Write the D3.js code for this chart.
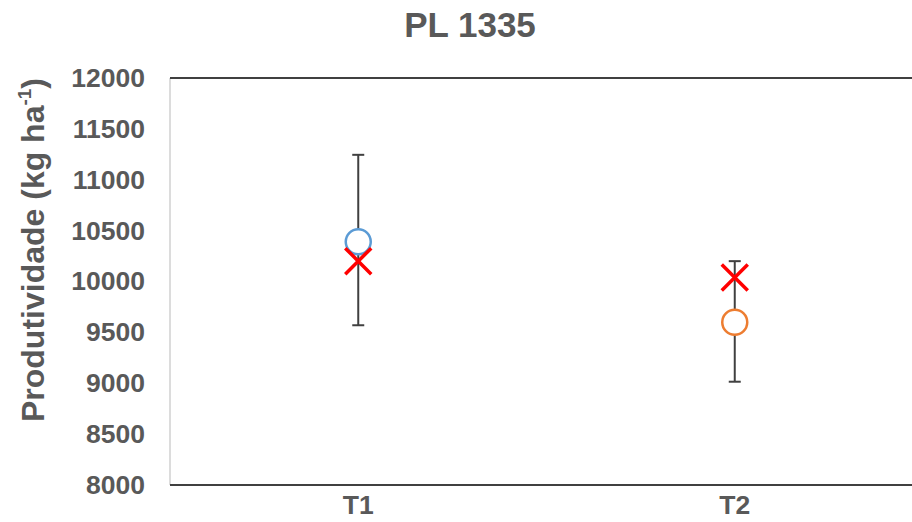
<!DOCTYPE html>
<html>
<head>
<meta charset="utf-8">
<script src="https://cdn.jsdelivr.net/npm/d3@7"></script>
<style>
  html, body { margin: 0; padding: 0; background: #ffffff; }
  svg { display: block; font-family: Arial, "Liberation Sans", sans-serif; }
</style>
</head>
<body>
<svg id="chart" width="912" height="522"></svg>
<script>
// Treatments and productivity values (kg/ha)
const categories = ["T1", "T2"];
const meanValues = [10390, 9600];
const errorLow = [9570, 9015];
const errorHigh = [11245, 10200];
const crossValues = [10200, 10040];
const markerColors = ["#5B9BD5", "#ED7D31"];
const yTicks = [8000, 8500, 9000, 9500, 10000, 10500, 11000, 11500, 12000];
const titleText = "PL 1335";

const svg = d3.select("#chart");
const plot = { left: 170, right: 923, top: 78, bottom: 485 };
const textColor = "#595959";

const x = d3.scaleBand().domain(categories).range([plot.left, plot.right]).padding(0);
const y = d3.scaleLinear().domain([8000, 12000]).range([plot.bottom, plot.top]);

const data = categories.map((c, i) => ({
  cat: c, mean: meanValues[i], lo: errorLow[i], hi: errorHigh[i],
  cross: crossValues[i], color: markerColors[i]
}));

// Title
svg.append("text")
  .attr("x", 470).attr("y", 37)
  .attr("text-anchor", "middle")
  .attr("font-size", 35).attr("font-weight", "bold")
  .attr("fill", textColor)
  .text(titleText);

// Plot frame: light left edge, dark top edge
svg.append("line")
  .attr("x1", plot.left).attr("x2", plot.left)
  .attr("y1", plot.top).attr("y2", plot.bottom)
  .attr("stroke", "#d0d0d0").attr("stroke-width", 1.5);
svg.append("line")
  .attr("x1", plot.left).attr("x2", 912)
  .attr("y1", plot.top).attr("y2", plot.top)
  .attr("stroke", "#404040").attr("stroke-width", 2);

// Y axis labels
const yAxis = d3.axisLeft(y).tickValues(yTicks).tickSize(0).tickPadding(0).tickFormat(d3.format("d"));
const gy = svg.append("g").attr("transform", `translate(${plot.left - 25},0)`).call(yAxis);
gy.select(".domain").remove();
gy.selectAll("text")
  .attr("font-size", 26.5).attr("font-weight", "bold")
  .attr("fill", textColor)
  .attr("font-family", "Arial, 'Liberation Sans', sans-serif");

// X axis
const xAxis = d3.axisBottom(x).tickSize(0).tickPadding(0);
const gx = svg.append("g").attr("transform", `translate(0,${plot.bottom})`).call(xAxis);
gx.select(".domain").attr("stroke", "#404040").attr("stroke-width", 2)
  .attr("d", `M${plot.left},0H912`);
gx.selectAll("text")
  .attr("y", 29).attr("dy", "0")
  .attr("font-size", 26.5).attr("font-weight", "bold")
  .attr("fill", textColor)
  .attr("font-family", "Arial, 'Liberation Sans', sans-serif");

// Y axis title
const yTitle = svg.append("text")
  .attr("transform", `translate(44,250) rotate(-90)`)
  .attr("text-anchor", "middle")
  .attr("font-size", 32).attr("font-weight", "bold")
  .attr("fill", textColor);
yTitle.append("tspan").text("Produtividade (kg ha");
yTitle.append("tspan").attr("font-size", 19).attr("dy", -13).text("-1");
yTitle.append("tspan").attr("dy", 13).text(")");

const cx = d => x(d.cat) + x.bandwidth() / 2;

// Error bars
const eb = svg.append("g").selectAll("g").data(data).join("g");
eb.append("line")
  .attr("x1", cx).attr("x2", cx)
  .attr("y1", d => y(d.hi)).attr("y2", d => y(d.lo))
  .attr("stroke", "#404040").attr("stroke-width", 2);
eb.append("line")
  .attr("x1", d => cx(d) - 6).attr("x2", d => cx(d) + 6)
  .attr("y1", d => y(d.hi)).attr("y2", d => y(d.hi))
  .attr("stroke", "#404040").attr("stroke-width", 2);
eb.append("line")
  .attr("x1", d => cx(d) - 6).attr("x2", d => cx(d) + 6)
  .attr("y1", d => y(d.lo)).attr("y2", d => y(d.lo))
  .attr("stroke", "#404040").attr("stroke-width", 2);

// Mean markers
svg.append("g").selectAll("circle").data(data).join("circle")
  .attr("cx", cx).attr("cy", d => y(d.mean))
  .attr("r", 12.5)
  .attr("fill", "#ffffff")
  .attr("stroke", d => d.color).attr("stroke-width", 2.5);

// Cross markers
const s = 13;
svg.append("g").selectAll("path").data(data).join("path")
  .attr("d", d => {
    const px = cx(d), py = y(d.cross);
    return `M${px - s},${py - s}L${px + s},${py + s}M${px - s},${py + s}L${px + s},${py - s}`;
  })
  .attr("fill", "none")
  .attr("stroke", "#FF0000").attr("stroke-width", 3.5);
</script>
</body>
</html>
